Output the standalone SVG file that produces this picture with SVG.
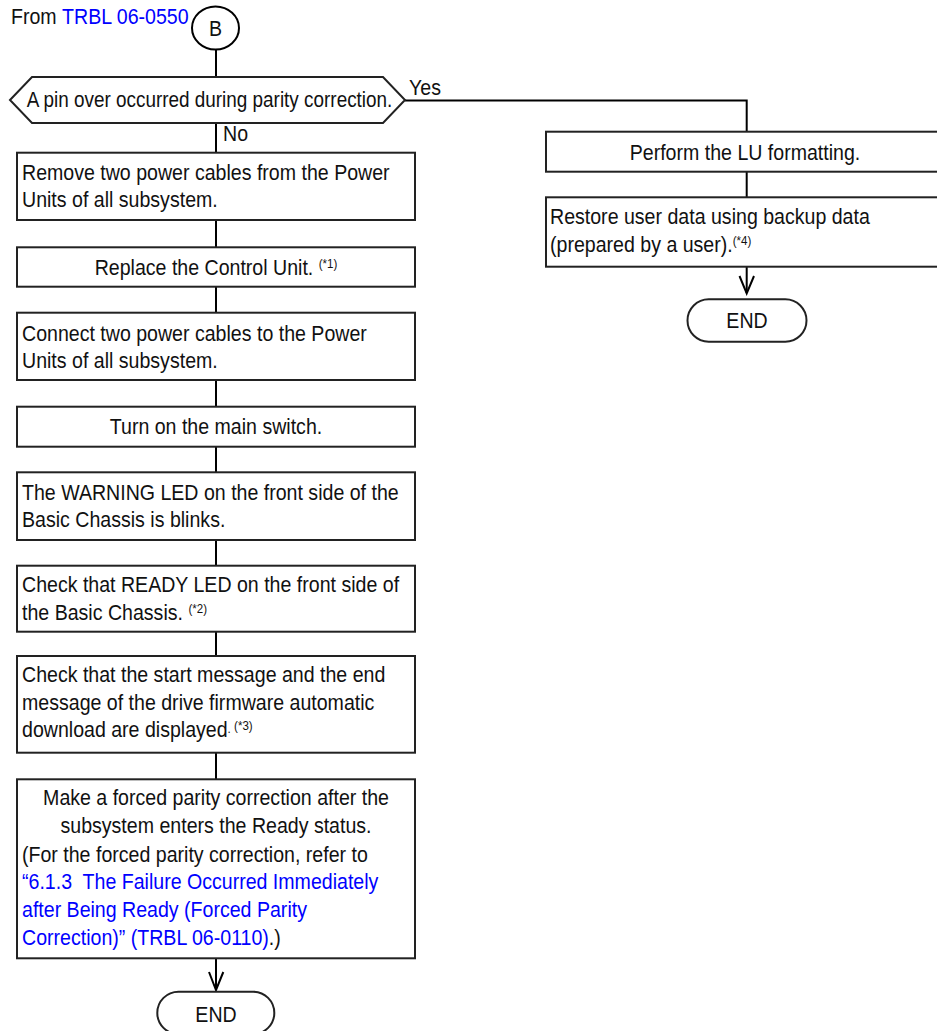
<svg xmlns="http://www.w3.org/2000/svg" width="937" height="1031" viewBox="0 0 937 1031">
<style>
text{font-family:"Liberation Sans",Arial,sans-serif;font-size:22px;fill:#111}
.c{text-anchor:middle}
.b{fill:#0000ff}
.sup{font-size:13px}
.box{fill:#fff;stroke:#222;stroke-width:2}
.ln{fill:none;stroke:#000;stroke-width:2}
</style>
<g id="connectors">
<path class="ln" d="M216,49 V77"/>
<path class="ln" d="M216,123 V152.7"/>
<path class="ln" d="M405,100.5 H746.7 V131.7"/>
<path class="ln" d="M746.7,171.7 V197.3"/>
<path class="ln" d="M746.7,266.7 V293"/>
<path d="M739.5,276 L746.7,293.5 L754,276" class="ln"/>
<path class="ln" d="M216,220 V247.3"/>
<path class="ln" d="M216,286.7 V312.7"/>
<path class="ln" d="M216,380 V406.7"/>
<path class="ln" d="M216,446.7 V472.3"/>
<path class="ln" d="M216,540 V565.7"/>
<path class="ln" d="M216,631.7 V656"/>
<path class="ln" d="M216,752.7 V779.3"/>
<path class="ln" d="M216,958.3 V990"/>
<path d="M209,972 L216,990 L223.3,972" class="ln"/>
<text transform="translate(409,95) scale(0.89,1)">Yes</text>
<text transform="translate(223,141) scale(0.89,1)">No</text>
</g>
<g id="from">
<text transform="translate(11,24) scale(0.89,1)">From <tspan class="b">TRBL 06-0550</tspan></text>
</g>
<g id="startB">
<ellipse cx="215.5" cy="28" rx="23.5" ry="21.5" fill="#fff" stroke="#000" stroke-width="2"/>
<text class="c" transform="translate(215.5,36) scale(0.89,1)">B</text>
</g>
<g id="decision">
<polygon class="box" points="10,100 32,77 383,77 405,100 383,123 32,123"/>
<text class="c" transform="translate(209.5,107) scale(0.86,1)">A pin over occurred during parity correction.</text>
</g>
<g id="formatLU">
<rect class="box" x="546" y="131.7" width="401" height="40"/>
<text class="c" transform="translate(745,160) scale(0.89,1)">Perform the LU formatting.</text>
</g>
<g id="restore">
<rect class="box" x="546" y="197.3" width="401" height="69.4"/>
<text transform="translate(550,224) scale(0.89,1)">Restore user data using backup data</text>
<text transform="translate(550,251.7) scale(0.89,1)">(prepared by a user).<tspan class="sup" dy="-7">(*4)</tspan></text>
</g>
<g id="end1">
<rect class="box" x="687.5" y="299.3" width="119" height="42.4" rx="21.2" ry="21.2" stroke="#000"/>
<text class="c" transform="translate(747,327.5) scale(0.89,1)">END</text>
</g>
<g id="removeCables">
<rect class="box" x="17" y="152.7" width="398" height="67.3"/>
<text transform="translate(22,180) scale(0.89,1)">Remove two power cables from the Power</text>
<text transform="translate(22,207) scale(0.89,1)">Units of all subsystem.</text>
</g>
<g id="replaceCU">
<rect class="box" x="17" y="247.3" width="398" height="39.4"/>
<text class="c" transform="translate(216,275) scale(0.89,1)">Replace the Control Unit. <tspan class="sup" dy="-7">(*1)</tspan></text>
</g>
<g id="connectCables">
<rect class="box" x="17" y="312.7" width="398" height="67.3"/>
<text transform="translate(22,341) scale(0.89,1)">Connect two power cables to the Power</text>
<text transform="translate(22,368.3) scale(0.89,1)">Units of all subsystem.</text>
</g>
<g id="mainSwitch">
<rect class="box" x="17" y="406.7" width="398" height="40"/>
<text class="c" transform="translate(216,433.5) scale(0.89,1)">Turn on the main switch.</text>
</g>
<g id="warningLED">
<rect class="box" x="17" y="472.3" width="398" height="67.7"/>
<text transform="translate(22,500) scale(0.89,1)">The WARNING LED on the front side of the</text>
<text transform="translate(22,527.3) scale(0.89,1)">Basic Chassis is blinks.</text>
</g>
<g id="readyLED">
<rect class="box" x="17" y="565.7" width="398" height="66"/>
<text transform="translate(22,592) scale(0.89,1)">Check that READY LED on the front side of</text>
<text transform="translate(22,620) scale(0.89,1)">the Basic Chassis. <tspan class="sup" dy="-7">(*2)</tspan></text>
</g>
<g id="checkMessages">
<rect class="box" x="17" y="656" width="398" height="96.7"/>
<text transform="translate(22,682) scale(0.89,1)">Check that the start message and the end</text>
<text transform="translate(22,710) scale(0.89,1)">message of the drive firmware automatic</text>
<text transform="translate(22,737) scale(0.89,1)">download are displayed<tspan class="sup" dy="-4">. </tspan><tspan class="sup" dy="-3">(*3)</tspan></text>
</g>
<g id="forcedParity">
<rect class="box" x="17" y="779.3" width="398" height="179"/>
<text class="c" transform="translate(216,805) scale(0.89,1)">Make a forced parity correction after the</text>
<text class="c" transform="translate(216,833.3) scale(0.89,1)">subsystem enters the Ready status.</text>
<text transform="translate(22,861.7) scale(0.89,1)">(For the forced parity correction, refer to</text>
<text class="b" transform="translate(22,889.3) scale(0.89,1)">“6.1.3&#160; The Failure Occurred Immediately</text>
<text class="b" transform="translate(22,916.7) scale(0.89,1)">after Being Ready (Forced Parity</text>
<text transform="translate(22,945) scale(0.89,1)"><tspan class="b">Correction)” (TRBL 06-0110)</tspan>.)</text>
</g>
<g id="end2">
<rect class="box" x="157.3" y="991.7" width="117" height="42.4" rx="21.2" ry="21.2" stroke="#000"/>
<text class="c" transform="translate(216,1021.7) scale(0.89,1)">END</text>
</g>
</svg>
